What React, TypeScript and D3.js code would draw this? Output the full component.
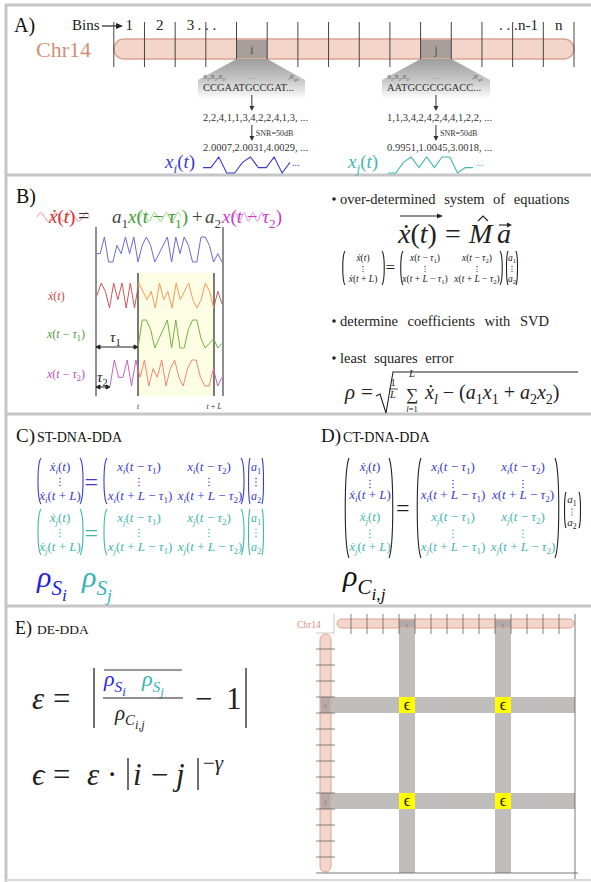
import React from "react";
import * as d3 from "d3";

// ---- values ----
const binCount = 15;
const binI = 4;
const binJ = 10;
const binLabels = [
  { bin: 0, text: "1" },
  { bin: 1, text: "2" },
  { bin: 2, text: "3" },
  { bin: 13, text: "n-1" },
  { bin: 14, text: "n" },
];
const seqI = "CCGAATGCCGAT...";
const seqJ = "AATGCGCGGACC...";
const codesI = [2, 2, 4, 1, 1, 3, 4, 2, 2, 4, 1, 3];
const codesJ = [1, 1, 3, 4, 2, 4, 2, 4, 4, 1, 2, 2];
const noisyI = ["2.0007", "2.0031", "4.0029"];
const noisyJ = ["0.9951", "1.0045", "3.0018"];

// panel B traces (levels 1..4)
const sigB = [2, 2, 4, 1, 1, 3, 2, 4, 2, 4, 1, 3, 4, 3, 1, 2, 3, 4, 1, 4, 2, 4, 3, 1, 1, 4, 4, 3, 1, 2, 1];
const derivB = [2.5, 4, 3, 1, 4, 2, 4, 1, 4, 1, 4, 3, 2, 3, 1, 4, 2, 3, 1, 4, 2, 3, 4, 2, 1, 2, 4, 3, 1, 3, 1.5];
const tau1B = [1, 4, 4, 3, 1, 2, 3, 4, 1, 4, 1, 1, 3, 4, 4, 2, 1, 1.5, 2, 1, 1.5];
const tau2B = [1, 4, 2, 2, 4, 1, 4, 2, 4, 1, 3, 2, 4, 1, 3, 4, 2, 1, 3, 4, 4, 2, 1, 1, 3, 1, 2];
const wiggle = [0, 1, 0, -1, 0, 1, 0, -1, 0, 1, 0, -1, 0, 1, 0];

const gridBins = 15;
const gridHits = [binI, binJ];

// ---- helpers ----
const SERIF = "'Liberation Serif', 'DejaVu Serif', 'Times New Roman', serif";
const BLUE = "#3a3ad2";
const TEAL = "#3fb6ae";
const CHR_FILL = "#f3d5ca";
const CHR_STROKE = "#dca392";
const CHR_TEXT = "#d38f7b";

const ITAL = /[A-Za-zα-ωϵẋ]/;
type Run = { t: string; lvl: number; it?: boolean };

function parseTex(s: string, lvl = 0): Run[] {
  const out: Run[] = [];
  let i = 0;
  while (i < s.length) {
    const c = s[i];
    if (c === "_" || c === "^") {
      let grp = "";
      if (s[i + 1] === "{") {
        let depth = 1;
        let j = i + 2;
        while (j < s.length && depth > 0) {
          if (s[j] === "{") depth++;
          else if (s[j] === "}") depth--;
          if (depth > 0) grp += s[j];
          j++;
        }
        i = j;
      } else {
        grp = s[i + 1];
        i += 2;
      }
      const nl = c === "_" ? (lvl >= 1 ? lvl + 1 : 1) : -1;
      out.push(...parseTex(grp, nl));
    } else {
      out.push({ t: c, lvl });
      i++;
    }
  }
  return out;
}

const lvlOff = (l: number) => (l === 1 ? 0.25 : l === 2 ? 0.45 : l === -1 ? -0.42 : 0);
const lvlSize = (l: number) => (l === 1 ? 0.7 : l === 2 ? 0.58 : l === -1 ? 0.7 : 1);

function Tex({ x, y, s, size = 12, fill = "#222", anchor = "start", roman = false }: any) {
  const runs: Run[] = [];
  for (const c of parseTex(s)) {
    const it = !roman && ITAL.test(c.t);
    const last = runs[runs.length - 1];
    if (last && last.lvl === c.lvl && last.it === it) last.t += c.t;
    else runs.push({ t: c.t, lvl: c.lvl, it });
  }
  let cur = 0;
  return (
    <text x={x} y={y} fontSize={size} fill={fill} textAnchor={anchor} fontFamily={SERIF} style={{ whiteSpace: "pre" }}>
      {runs.map((r, k) => {
        const off = lvlOff(r.lvl) * size;
        const dy = off - cur;
        cur = off;
        return (
          <tspan key={k} dy={dy} fontSize={size * lvlSize(r.lvl)} fontStyle={r.it ? "italic" : "normal"}>
            {r.t}
          </tspan>
        );
      })}
    </text>
  );
}

function Paren({ x, y0, y1, dir, w = 4, stroke = "#222" }: any) {
  const xe = x + dir * w;
  const h = y1 - y0;
  const d = `M${xe},${y0} C${x},${y0 + h * 0.12} ${x},${y1 - h * 0.12} ${xe},${y1}`;
  return <path d={d} fill="none" stroke={stroke} strokeWidth={1.1} />;
}

function VDots({ x, y, fill = "#222", gap = 3.4, r = 0.75 }: any) {
  return (
    <g fill={fill}>
      {[-1, 0, 1].map((k) => (
        <circle key={k} cx={x} cy={y + k * gap} r={r} />
      ))}
    </g>
  );
}

function Arrow({ x, y0, y1 }: any) {
  return (
    <g>
      <line x1={x} x2={x} y1={y0} y2={y1 - 4} stroke="#333" strokeWidth={1} />
      <path d={`M${x - 2.5},${y1 - 5} L${x + 2.5},${y1 - 5} L${x},${y1} Z`} fill="#333" />
    </g>
  );
}

function HArrow({ x0, x1, y }: any) {
  return (
    <g stroke="#222" strokeWidth={1} fill="#222">
      <line x1={x0 + 3} x2={x1 - 3} y1={y} y2={y} />
      <path d={`M${x0},${y} L${x0 + 4},${y - 2} L${x0 + 4},${y + 2} Z`} />
      <path d={`M${x1},${y} L${x1 - 4},${y - 2} L${x1 - 4},${y + 2} Z`} />
    </g>
  );
}

function Trace({ values, x0, x1, yLo, yHi, stroke, clip }: any) {
  const xs = d3.scaleLinear().domain([0, values.length - 1]).range([x0, x1]);
  const ys = d3.scaleLinear().domain([1, 4]).range([yLo, yHi]);
  const ln = d3.line<number>().x((_, i) => xs(i)).y((v) => ys(v));
  return <path d={ln(values) || ""} fill="none" stroke={stroke} strokeWidth={1} clipPath={clip} />;
}

function Wiggle({ x0, x1, y, amp, stroke }: any) {
  const xs = d3.scaleLinear().domain([0, wiggle.length - 1]).range([x0, x1]);
  const ln = d3.line<number>().x((_, i) => xs(i)).y((v) => y - v * amp).curve(d3.curveCardinal);
  return <path d={ln(wiggle) || ""} fill="none" stroke={stroke} strokeWidth={1.1} />;
}

// ---- panel A ----
function PanelA() {
  const bx = d3.scaleLinear().domain([0, binCount]).range([113.8, 574]);
  const w = bx(1) - bx(0);
  const waveI = d3.scaleLinear().domain([0, codesI.length - 1]).range([203, 290]);
  const waveJ = d3.scaleLinear().domain([0, codesJ.length - 1]).range([388, 473]);
  const lv = d3.scaleLinear().domain([1, 4]).range([173, 157]);
  const lineI = d3.line<number>().x((_, i) => waveI(i)).y((v) => lv(v));
  const lineJ = d3.line<number>().x((_, i) => waveJ(i)).y((v) => lv(v));

  const callout = (bin: number, left: number, right: number) => {
    const a = bx(bin);
    const b = bx(bin + 1);
    return <path d={`M${a},59 L${b},59 L${right},80 L${right},99 L${left},99 L${left},80 Z`} fill="url(#fadeA)" />;
  };

  const block = (bin: number, tx: number, seq: string, codes: number[], noisy: string[], dots: number[]) => {
    const cx = bx(bin) + w / 2;
    return (
      <g>
        <Tex x={tx} y={79} s="N_1,N_2,N_3," size={6} fill="#555" />
        <text x={dots[0]} y={79} fontFamily={SERIF} fontSize={6} fill="#555">. . .</text>
        <Tex x={dots[1]} y={79} s=",N_{spt}" size={6} fill="#555" />
        <text x={tx} y={91} fontFamily={SERIF} fontSize={10.5} fill="#333">{seq}</text>
        <Arrow x={cx} y0={95} y1={111} />
        <text x={tx} y={121} fontFamily={SERIF} fontSize={10.5} fill="#333">{codes.join(",") + ",  ..."}</text>
        <Arrow x={cx} y0={125} y1={141} />
        <text x={cx + 4} y={136} fontFamily={SERIF} fontSize={8} fill="#333">SNR=50dB</text>
        <text x={tx} y={151} fontFamily={SERIF} fontSize={10.5} fill="#333">{noisy.join(",") + ",  ..."}</text>
      </g>
    );
  };

  return (
    <g>
      <text x={14} y={32} fontFamily={SERIF} fontSize={20} fill="#111">A)</text>
      <text x={72} y={30} fontFamily={SERIF} fontSize={15} fill="#222">Bins</text>
      <line x1={102} x2={118} y1={26} y2={26} stroke="#222" strokeWidth={1.2} />
      <path d="M123,26 L116,23 L116,29 Z" fill="#222" />
      {binLabels.map((b) => (
        <text key={b.bin} x={bx(b.bin) + w / 2} y={30} textAnchor="middle" fontFamily={SERIF} fontSize={15} fill="#222">
          {b.text}
        </text>
      ))}
      <text x={bx(2) + w / 2 + 7} y={30} fontFamily={SERIF} fontSize={15} fill="#222">. . .</text>
      <text x={bx(13) + 5} y={30} textAnchor="end" fontFamily={SERIF} fontSize={15} fill="#222">. . .</text>

      <text x={36} y={57} fontFamily={SERIF} fontSize={22} fill={CHR_TEXT}>Chr14</text>
      <rect x={bx(0)} y={39} width={bx(binCount) - bx(0)} height={20} rx={10} fill={CHR_FILL} stroke={CHR_STROKE} strokeWidth={1.5} />
      {[binI, binJ].map((b) => (
        <rect key={b} x={bx(b)} y={39.8} width={w} height={18.4} fill="#a89f9b" />
      ))}
      <text x={bx(binI) + w / 2} y={54} textAnchor="middle" fontFamily={SERIF} fontSize={13} fill="#555">i</text>
      <text x={bx(binJ) + w / 2} y={54} textAnchor="middle" fontFamily={SERIF} fontSize={13} fill="#555">j</text>
      {d3.range(binCount + 1).map((k) => (
        <line key={k} x1={bx(k)} x2={bx(k)} y1={22} y2={67} stroke="#444" strokeWidth={1} />
      ))}

      {callout(binI, 198, 305)}
      {callout(binJ, 382, 490)}
      {block(binI, 203, seqI, codesI, noisyI, [249, 288])}
      {block(binJ, 387, seqJ, codesJ, noisyJ, [433, 472])}

      <Tex x={165} y={168} s="x_i(t)" size={19} fill={BLUE} />
      <path d={lineI(codesI) || ""} fill="none" stroke={BLUE} strokeWidth={1.1} />
      <text x={292} y={166} fontFamily={SERIF} fontSize={10} fill={BLUE}>...</text>
      <Tex x={348} y={168} s="x_j(t)" size={19} fill={TEAL} />
      <path d={lineJ(codesJ) || ""} fill="none" stroke={TEAL} strokeWidth={1.1} />
      <text x={476} y={166} fontFamily={SERIF} fontSize={10} fill={TEAL}>...</text>
    </g>
  );
}

// ---- panel B ----
function PanelB() {
  return (
    <g>
      <text x={16} y={203} fontFamily={SERIF} fontSize={20} fill="#111">B)</text>

      <Wiggle x0={37} x1={90} y={217} amp={4.5} stroke="#f3a9b1" />
      <Wiggle x0={140} x1={181} y={217} amp={4.5} stroke="#a9da8f" />
      <Wiggle x0={233} x1={264} y={217} amp={4.5} stroke="#eaa2ea" />
      <Tex x={49} y={223} s="ẋ(t)" size={19} fill="#d03030" />
      <text x={78} y={223} fontFamily={SERIF} fontSize={20} fill="#333">=</text>
      <Tex x={112} y={223} s="a_1" size={19} fill="#444" />
      <Tex x={128} y={223} s="x(t − τ_1)" size={19} fill="#3e9a36" />
      <text x={192} y={223} fontFamily={SERIF} fontSize={19} fill="#444">+</text>
      <Tex x={205} y={223} s="a_2" size={19} fill="#444" />
      <Tex x={222} y={223} s="x(t − τ_2)" size={19} fill="#c83cc8" />

      <rect x={138} y={273} width={76} height={123} fill="#fdfde4" />
      <line x1={96} x2={96} y1={227} y2={396} stroke="#333" strokeWidth={1.1} />
      <line x1={223} x2={223} y1={227} y2={396} stroke="#333" strokeWidth={1.1} />
      <line x1={138} x2={138} y1={273} y2={396} stroke="#333" strokeWidth={1.3} />
      <line x1={214} x2={214} y1={273} y2={396} stroke="#333" strokeWidth={1.3} />

      <defs>
        <clipPath id="inWin">
          <rect x={138} y={270} width={76} height={130} />
        </clipPath>
        <clipPath id="outWin">
          <rect x={90} y={270} width={48} height={130} />
          <rect x={214} y={270} width={20} height={130} />
        </clipPath>
      </defs>

      <Trace values={sigB} x0={96} x1={222} yLo={262} yHi={237} stroke="#6a6ad0" />
      <Trace values={derivB} x0={97} x1={222} yLo={308} yHi={283} stroke="#c85858" clip="url(#outWin)" />
      <Trace values={derivB} x0={97} x1={222} yLo={308} yHi={283} stroke="#f29a5a" clip="url(#inWin)" />
      <Trace values={tau1B} x0={138} x1={222} yLo={348} yHi={320} stroke="#72b443" />
      <Trace values={tau2B} x0={110} x1={222} yLo={386} yHi={360} stroke="#c064c8" clip="url(#outWin)" />
      <Trace values={tau2B} x0={110} x1={222} yLo={386} yHi={360} stroke="#f08678" clip="url(#inWin)" />

      <Tex x={48} y={300} s="ẋ(t)" size={12} fill="#c84848" />
      <Tex x={47} y={338} s="x(t − τ_1)" size={12} fill="#4e9a3e" />
      <Tex x={47} y={378} s="x(t − τ_2)" size={12} fill="#b850b8" />

      <Tex x={110} y={342} s="τ_1" size={15} fill="#222" />
      <HArrow x0={96} x1={138} y={347} />
      <Tex x={97} y={382} s="τ_2" size={15} fill="#222" />
      <HArrow x0={96} x1={110} y={387} />
      <Tex x={138} y={409} s="t" size={8} fill="#333" anchor="middle" />
      <Tex x={214} y={409} s="t + L" size={8} fill="#333" anchor="middle" />

      {/* right half */}
      <g fontFamily={SERIF} fill="#222">
        <circle cx={334} cy={199} r={1.8} />
        <text x={340} y={204} fontSize={14.5} wordSpacing={5}>over-determined system of equations</text>
        <circle cx={334} cy={321} r={1.8} />
        <text x={340} y={326} fontSize={14.5} wordSpacing={6}>determine coefficients with SVD</text>
        <circle cx={334} cy={358} r={1.8} />
        <text x={340} y={363} fontSize={14.5} wordSpacing={4}>least squares error</text>
      </g>

      <Tex x={398} y={243} s="ẋ(t)" size={28} fill="#222" />
      <line x1={400} x2={440} y1={216} y2={216} stroke="#222" strokeWidth={1.1} />
      <path d="M443,216 L437,213.5 L437,218.5 Z" fill="#222" />
      <text x={445} y={243} fontFamily={SERIF} fontSize={28} fill="#222">=</text>
      <Tex x={469} y={243} s="M" size={28} fill="#222" />
      <path d="M478,221 L483,216 L488,221" fill="none" stroke="#222" strokeWidth={1.2} />
      <Tex x={497} y={243} s="a" size={28} fill="#222" />
      <line x1={499} x2={509} y1={225} y2={225} stroke="#222" strokeWidth={1.1} />
      <path d="M512,225 L507,222.5 L507,227.5 Z" fill="#222" />

      <Paren x={342} y0={251} y1={285} dir={1} w={3} />
      <Tex x={363} y={261} s="ẋ(t)" size={9.5} anchor="middle" />
      <VDots x={363} y={269} gap={2.6} r={0.6} />
      <Tex x={363} y={282} s="ẋ(t + L)" size={9.5} anchor="middle" />
      <Paren x={385} y0={251} y1={285} dir={-1} w={3} />
      <text x={385.5} y={273} fontFamily={SERIF} fontSize={17} fill="#222">=</text>
      <Paren x={400} y0={251} y1={285} dir={1} w={3} />
      <Tex x={425} y={261} s="x(t − τ_1)" size={9.5} anchor="middle" />
      <VDots x={425} y={269} gap={2.6} r={0.6} />
      <Tex x={425} y={282} s="x(t + L − τ_1)" size={9.5} anchor="middle" />
      <Tex x={477} y={261} s="x(t − τ_2)" size={9.5} anchor="middle" />
      <VDots x={477} y={269} gap={2.6} r={0.6} />
      <Tex x={477} y={282} s="x(t + L − τ_2)" size={9.5} anchor="middle" />
      <Paren x={503} y0={251} y1={285} dir={-1} w={3} />
      <Paren x={506} y0={251} y1={285} dir={1} w={2} />
      <Tex x={512} y={261} s="a_1" size={9.5} anchor="middle" />
      <VDots x={512} y={269} gap={2.6} r={0.6} />
      <Tex x={512} y={282} s="a_2" size={9.5} anchor="middle" />
      <Paren x={518} y0={251} y1={285} dir={-1} w={2} />

      <Tex x={345} y={399} s="ρ" size={21} />
      <text x={361} y={399} fontFamily={SERIF} fontSize={21} fill="#222">=</text>
      <path d="M376,396 L380,394 L386,413 L393,372 L578,372" fill="none" stroke="#222" strokeWidth={1.1} />
      <text x={393} y={386} textAnchor="middle" fontFamily={SERIF} fontSize={10.5} fill="#222">1</text>
      <line x1={389} x2={398} y1={389} y2={389} stroke="#222" strokeWidth={0.8} />
      <Tex x={393} y={398} s="L" size={10.5} anchor="middle" />
      <text x={412} y={400} textAnchor="middle" fontFamily={SERIF} fontSize={17} fill="#222">∑</text>
      <Tex x={412} y={377} s="L" size={10.5} anchor="middle" />
      <Tex x={412} y={412} s="l=1" size={8.5} anchor="middle" />
      <Tex x={425} y={399} s="ẋ_l − (a_1x_1 + a_2x_2)" size={20} />
    </g>
  );
}

// ---- panel C / D ----
function SmallSystem({ y0, sub, color }: any) {
  const y1 = y0 + 46;
  const r1 = y0 + 13;
  const r2 = y0 + 42;
  const md = y0 + 24;
  return (
    <g>
      <Paren x={37} y0={y0} y1={y1} dir={1} w={4} stroke={color} />
      <Tex x={60} y={r1} s={`ẋ_${sub}(t)`} size={13} fill={color} anchor="middle" />
      <VDots x={60} y={md} fill={color} />
      <Tex x={60} y={r2} s={`ẋ_${sub}(t + L)`} size={13} fill={color} anchor="middle" />
      <Paren x={84} y0={y0} y1={y1} dir={-1} w={4} stroke={color} />
      <text x={84.5} y={md + 8} fontFamily={SERIF} fontSize={24} fill={color}>=</text>
      <Paren x={103} y0={y0} y1={y1} dir={1} w={4} stroke={color} />
      <Tex x={139} y={r1} s={`x_${sub}(t − τ_1)`} size={13} fill={color} anchor="middle" />
      <VDots x={139} y={md} fill={color} />
      <Tex x={140} y={r2} s={`x_${sub}(t + L − τ_1)`} size={13} fill={color} anchor="middle" />
      <Tex x={209} y={r1} s={`x_${sub}(t − τ_2)`} size={13} fill={color} anchor="middle" />
      <VDots x={209} y={md} fill={color} />
      <Tex x={210} y={r2} s={`x_${sub}(t + L − τ_2)`} size={13} fill={color} anchor="middle" />
      <Paren x={245} y0={y0} y1={y1} dir={-1} w={4} stroke={color} />
      <Paren x={248} y0={y0} y1={y1} dir={1} w={2} stroke={color} />
      <Tex x={256} y={r1} s="a_1" size={12} fill={color} anchor="middle" />
      <VDots x={256} y={md} fill={color} />
      <Tex x={256} y={r2} s="a_2" size={12} fill={color} anchor="middle" />
      <Paren x={264} y0={y0} y1={y1} dir={-1} w={2} stroke={color} />
    </g>
  );
}

function PanelCD() {
  const rows = [471, 499, 521, 551];
  const dotsY = [484, 534];
  const rowColor = [BLUE, BLUE, TEAL, TEAL];
  const left = ["ẋ_i(t)", "ẋ_i(t + L)", "ẋ_j(t)", "ẋ_j(t + L)"];
  const col1 = ["x_i(t − τ_1)", "x_i(t + L − τ_1)", "x_j(t − τ_1)", "x_j(t + L − τ_1)"];
  const col2 = ["x_i(t − τ_2)", "x(t + L − τ_2)", "x_j(t − τ_2)", "x_j(t + L − τ_2)"];
  return (
    <g>
      <text x={16} y={442} fontFamily={SERIF} fontSize={19} fill="#111">C)</text>
      <text x={37} y={442} fontFamily={SERIF} fontSize={14} fill="#111">ST-DNA-DDA</text>
      <SmallSystem y0={458} sub="i" color={BLUE} />
      <SmallSystem y0={509} sub="j" color={TEAL} />
      <Tex x={37} y={587} s="ρ_{S_i}" size={30} fill="#2323dc" />
      <Tex x={82} y={587} s="ρ_{S_j}" size={30} fill="#31b4b4" />

      <text x={321} y={442} fontFamily={SERIF} fontSize={19} fill="#111">D)</text>
      <text x={343} y={442} fontFamily={SERIF} fontSize={14} fill="#111">CT-DNA-DDA</text>
      <Paren x={344} y0={458} y1={558} dir={1} w={5} />
      <Paren x={394} y0={458} y1={558} dir={-1} w={5} />
      <text x={396} y={516} fontFamily={SERIF} fontSize={24} fill="#222">=</text>
      <Paren x={416} y0={458} y1={558} dir={1} w={5} />
      <Paren x={560} y0={458} y1={558} dir={-1} w={5} />
      {rows.map((y, k) => (
        <g key={k}>
          <Tex x={370} y={y} s={left[k]} size={13} fill={rowColor[k]} anchor="middle" />
          <Tex x={453} y={y} s={col1[k]} size={13} fill={rowColor[k]} anchor="middle" />
          <Tex x={523} y={y} s={col2[k]} size={13} fill={rowColor[k]} anchor="middle" />
        </g>
      ))}
      {dotsY.map((y, k) => (
        <g key={k}>
          <VDots x={370} y={y} fill={k === 0 ? BLUE : TEAL} />
          <VDots x={453} y={y} fill={k === 0 ? BLUE : TEAL} />
          <VDots x={523} y={y} fill={k === 0 ? BLUE : TEAL} />
        </g>
      ))}
      <Paren x={564} y0={492} y1={528} dir={1} w={2} />
      <Tex x={572} y={503} s="a_1" size={11} anchor="middle" />
      <VDots x={572} y={512} gap={2.8} r={0.6} />
      <Tex x={572} y={526} s="a_2" size={11} anchor="middle" />
      <Paren x={581} y0={492} y1={528} dir={-1} w={2} />
      <Tex x={343} y={586} s="ρ_{C_{i,j}}" size={30} fill="#111" />
    </g>
  );
}

// ---- panel E ----
function PanelE() {
  const gx = d3.scaleLinear().domain([0, gridBins]).range([335, 575]);
  const gy = d3.scaleLinear().domain([0, gridBins]).range([633, 873]);
  const cell = gx(1) - gx(0);
  const names = ["i", "j"];
  return (
    <g>
      <text x={15} y={634} fontFamily={SERIF} fontSize={18} fill="#111">E)</text>
      <text x={37} y={634} fontFamily={SERIF} fontSize={13.5} fill="#111">DE-DDA</text>

      <Tex x={32} y={709} s="ε" size={31} />
      <text x={53} y={709} fontFamily={SERIF} fontSize={31} fill="#222">=</text>
      <line x1={94} x2={94} y1={668} y2={728} stroke="#222" strokeWidth={1.3} />
      <line x1={104} x2={182} y1={670} y2={670} stroke="#333" strokeWidth={1.1} />
      <Tex x={104} y={686} s="ρ_{S_i}" size={22} fill="#2a2adc" />
      <Tex x={142} y={686} s="ρ_{S_j}" size={22} fill="#34b4b4" />
      <line x1={103} x2={183} y1={698} y2={698} stroke="#222" strokeWidth={1.2} />
      <Tex x={115} y={720} s="ρ_{C_{i,j}}" size={21} />
      <text x={195} y={709} fontFamily={SERIF} fontSize={31} fill="#222">−</text>
      <text x={226} y={709} fontFamily={SERIF} fontSize={31} fill="#222">1</text>
      <line x1={246} x2={246} y1={668} y2={728} stroke="#222" strokeWidth={1.3} />

      <Tex x={32} y={785} s="ϵ" size={31} />
      <text x={53} y={785} fontFamily={SERIF} fontSize={31} fill="#222">=</text>
      <Tex x={87} y={785} s="ε" size={31} />
      <text x={107} y={785} fontFamily={SERIF} fontSize={31} fill="#222">·</text>
      <line x1={128} x2={128} y1={758} y2={790} stroke="#222" strokeWidth={1.3} />
      <Tex x={133} y={785} s="i" size={31} />
      <text x={151} y={785} fontFamily={SERIF} fontSize={31} fill="#222">−</text>
      <Tex x={176} y={785} s="j" size={31} />
      <line x1={198} x2={198} y1={758} y2={790} stroke="#222" strokeWidth={1.3} />
      <Tex x={203} y={770} s="−γ" size={21} />

      {/* matrix sketch */}
      <text x={297} y={628} fontFamily={SERIF} fontSize={9.5} fill={CHR_TEXT}>Chr14</text>
      <path d="M316,633 L334,633 L334,614" fill="none" stroke="#bbb" strokeWidth={0.8} />
      {gridHits.map((b) => (
        <g key={"v" + b}>
          <rect x={gx(b)} y={628} width={cell} height={873 - 628} fill="#c0bebc" />
          <rect x={331} y={gy(b)} width={575 - 331} height={cell} fill="#c0bebc" />
        </g>
      ))}
      <rect x={337} y={619} width={237} height={9} rx={4.5} fill={CHR_FILL} stroke={CHR_STROKE} strokeWidth={1} />
      <rect x={320} y={634} width={11} height={238} rx={5.5} fill={CHR_FILL} stroke={CHR_STROKE} strokeWidth={1} />
      {gridHits.map((b, k) => (
        <g key={"b" + b}>
          <rect x={gx(b)} y={619.5} width={cell} height={8} fill="#b5aaa6" />
          <rect x={320.5} y={gy(b)} width={10} height={cell} fill="#b5aaa6" />
          <text x={gx(b) + cell / 2} y={627} textAnchor="middle" fontFamily={SERIF} fontSize={7} fill="#777">{names[k]}</text>
          <text x={325.5} y={gy(b) + cell / 2 + 2.5} textAnchor="middle" fontFamily={SERIF} fontSize={7} fill="#777">{names[k]}</text>
        </g>
      ))}
      {d3.range(1, gridBins).map((k) => (
        <g key={k} stroke="#666" strokeWidth={0.8}>
          <line x1={gx(k)} x2={gx(k)} y1={614} y2={634} />
          <line x1={316} x2={335} y1={gy(k)} y2={gy(k)} />
        </g>
      ))}
      {gridHits.map((r) =>
        gridHits.map((c) => (
          <g key={r + "-" + c}>
            <rect x={gx(c)} y={gy(r)} width={cell} height={cell} fill="#ffff00" />
            <text x={gx(c) + cell / 2} y={gy(r) + cell - 3} textAnchor="middle" fontFamily={SERIF} fontSize={16} fill="#111">ϵ</text>
          </g>
        ))
      )}
      <line x1={575} x2={575} y1={614} y2={879} stroke="#555" strokeWidth={0.8} />
      <line x1={316} x2={578} y1={873} y2={873} stroke="#555" strokeWidth={0.8} />
    </g>
  );
}

export default function App() {
  const frame = "#c6c6c6";
  return (
    <svg width={591} height={882} style={{ position: "absolute", left: 0, top: 0, background: "#fff" }}>
      <defs>
        <linearGradient id="fadeA" x1="0" y1="0" x2="0" y2="1">
          <stop offset="0" stopColor="#9d9d9d" />
          <stop offset="0.55" stopColor="#c9c9c9" />
          <stop offset="1" stopColor="#ffffff" />
        </linearGradient>
      </defs>
      <rect x={0} y={0} width={591} height={882} fill="#fff" />
      <line x1={5} x2={591} y1={5} y2={5} stroke={frame} strokeWidth={3} />
      <line x1={6} x2={6} y1={4} y2={882} stroke={frame} strokeWidth={3} />
      <line x1={5} x2={591} y1={175} y2={175} stroke={frame} strokeWidth={3} />
      <line x1={5} x2={591} y1={414} y2={414} stroke={frame} strokeWidth={3} />
      <line x1={5} x2={591} y1={606} y2={606} stroke={frame} strokeWidth={3} />
      <line x1={5} x2={591} y1={880} y2={880} stroke="#d8d8d8" strokeWidth={2} />
      <PanelA />
      <PanelB />
      <PanelCD />
      <PanelE />
    </svg>
  );
}
